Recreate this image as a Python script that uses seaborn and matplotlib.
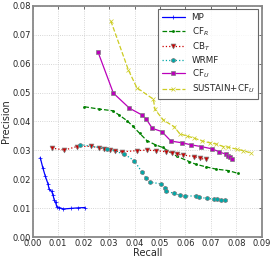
import numpy as np
import pandas as pd
import matplotlib
matplotlib.use('Agg')
import matplotlib.pyplot as plt
import seaborn as sns

# values
mp_recall = [0.003, 0.004, 0.005, 0.006, 0.0065, 0.0075, 0.008, 0.0085, 0.009, 0.0095, 0.0105, 0.012, 0.015, 0.018, 0.0205]
mp_prec = [0.0275, 0.024, 0.021, 0.0185, 0.0165, 0.0158, 0.0145, 0.0128, 0.012, 0.0105, 0.0102, 0.0097, 0.0099, 0.0101, 0.0102]

cfr_recall = [0.0203, 0.026, 0.0315, 0.034, 0.037, 0.0393, 0.042, 0.0448, 0.048, 0.051, 0.0565, 0.0615, 0.064, 0.068, 0.072, 0.0768, 0.0807]
cfr_prec = [0.0451, 0.0443, 0.0437, 0.0422, 0.0403, 0.0384, 0.0359, 0.0334, 0.032, 0.031, 0.028, 0.0261, 0.0252, 0.0243, 0.0235, 0.023, 0.022]

cbt_recall = [0.0075, 0.0125, 0.0173, 0.0228, 0.0262, 0.028, 0.0302, 0.0324, 0.035, 0.041, 0.0448, 0.0485, 0.0524, 0.0546, 0.0565, 0.0591, 0.0635, 0.0657, 0.068]
cbt_prec = [0.0308, 0.0301, 0.0313, 0.0314, 0.0309, 0.0303, 0.0301, 0.0298, 0.0295, 0.0299, 0.0301, 0.0299, 0.0295, 0.0292, 0.0287, 0.0284, 0.0278, 0.0272, 0.0269]

wrmf_recall = [0.0186, 0.0291, 0.036, 0.0399, 0.0428, 0.0445, 0.0461, 0.0503, 0.052, 0.0524, 0.0555, 0.0578, 0.0598, 0.0641, 0.0654, 0.0683, 0.0712, 0.0722, 0.0739, 0.0755]
wrmf_prec = [0.032, 0.0306, 0.0287, 0.0264, 0.0226, 0.0205, 0.019, 0.0184, 0.0171, 0.0159, 0.0151, 0.0145, 0.0142, 0.0142, 0.0137, 0.0134, 0.0131, 0.0131, 0.0128, 0.0128]

cfu_recall = [0.0256, 0.0317, 0.038, 0.0428, 0.0446, 0.047, 0.0507, 0.0543, 0.0588, 0.0622, 0.0662, 0.0705, 0.0732, 0.0757, 0.0768, 0.0775, 0.0781]
cfu_prec = [0.0642, 0.0498, 0.0446, 0.0423, 0.0408, 0.0376, 0.0365, 0.0332, 0.0326, 0.0319, 0.0313, 0.0305, 0.0295, 0.0287, 0.028, 0.0276, 0.027]

sus_recall = [0.0307, 0.0376, 0.0409, 0.0474, 0.048, 0.0513, 0.0555, 0.0578, 0.0605, 0.0635, 0.0664, 0.0696, 0.072, 0.0749, 0.0768, 0.0801, 0.0827, 0.0859]
sus_prec = [0.0748, 0.0578, 0.0517, 0.0477, 0.0442, 0.0405, 0.0382, 0.0357, 0.035, 0.0342, 0.0333, 0.0326, 0.0322, 0.0313, 0.0311, 0.0304, 0.0299, 0.029]

# name, x, y, colour, marker, linestyle, marker size
series = [
    ('MP', mp_recall, mp_prec, 'blue', '+', '-', 3.5),
    ('CF$_R$', cfr_recall, cfr_prec, 'green', '.', '--', 3),
    ('CB$_T$', cbt_recall, cbt_prec, '#cc0000', 'v', ':', 3.5),
    ('WRMF', wrmf_recall, wrmf_prec, '#00a8a8', 'h', ':', 3.2),
    ('CF$_U$', cfu_recall, cfu_prec, '#bb00bb', 's', '-', 3.2),
    ('SUSTAIN+CF$_U$', sus_recall, sus_prec, '#cccc22', 'x', '--', 3),
]

sns.set_style('white')
plt.rcParams['font.family'] = ['DejaVu Sans']

fig = plt.figure(figsize=(2.74, 2.62), dpi=100)
ax = fig.add_axes([0.119, 0.0954, 0.837, 0.882])

for name, xs, ys, col, mk, ls, ms in series:
    d = pd.DataFrame({'recall': xs, 'precision': ys})
    sns.lineplot(data=d, x='recall', y='precision', ax=ax, sort=False, estimator=None,
                 color=col, marker=mk, linestyle=ls, linewidth=0.9, markersize=ms,
                 markeredgewidth=0.5, markeredgecolor=('gray' if mk in ['v', 'h', 's'] else col),
                 label=name)

ax.set_xlim(0, 0.09)
ax.set_ylim(0, 0.08)
ax.set_xticks(np.arange(0, 0.0901, 0.01))
ax.set_yticks(np.arange(0, 0.0801, 0.01))
ax.xaxis.set_major_formatter(matplotlib.ticker.FormatStrFormatter('%.2f'))
ax.yaxis.set_major_formatter(matplotlib.ticker.FormatStrFormatter('%.2f'))
ax.grid(True, linestyle=':', color='#c8c8c8', linewidth=0.6)
ax.tick_params(direction='in', length=2.5, width=0.6, labelsize=6, top=True, right=True,
               color='#555555', pad=1.5)
for s in ax.spines.values():
    s.set_color('#888888')
    s.set_linewidth(1.3)
ax.set_xlabel('Recall', fontsize=7, labelpad=0)
ax.set_ylabel('Precision', fontsize=7, labelpad=1)

leg = ax.legend(loc='upper right', fontsize=6.3, frameon=True, fancybox=False,
                borderaxespad=0.4, handlelength=2.6, labelspacing=0.32,
                borderpad=0.45, handletextpad=0.8)
leg.get_frame().set_edgecolor('#444444')
leg.get_frame().set_linewidth(0.8)

fig.savefig('out.png', dpi=100)
